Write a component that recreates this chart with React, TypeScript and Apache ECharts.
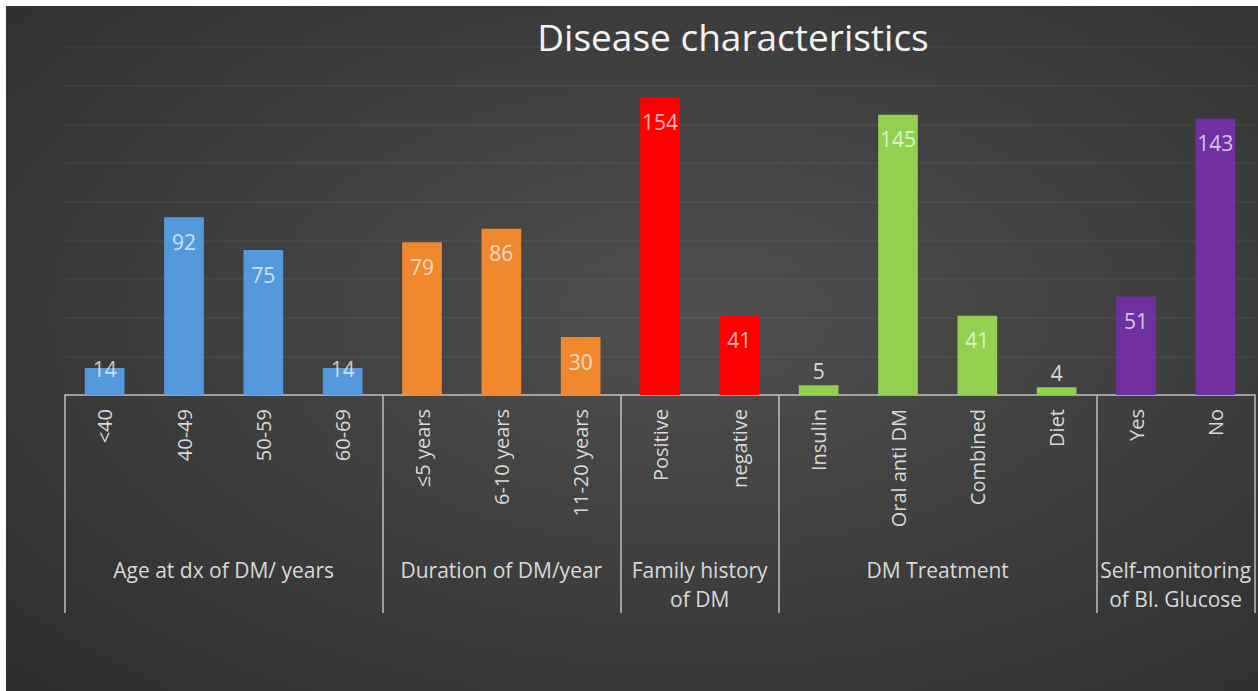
import React, { useEffect, useRef } from "react";
import * as echarts from "echarts";

const categories = [
  "<40", "40-49", "50-59", "60-69",
  "≤5 years", "6-10 years", "11-20 years",
  "Positive", "negative",
  "Insulin", "Oral anti DM", "Combined", "Diet",
  "Yes", "No",
];
const values = [14, 92, 75, 14, 79, 86, 30, 154, 41, 5, 145, 41, 4, 51, 143];
const groupNames = [
  "Age at dx of DM/ years",
  "Duration of DM/year",
  "Family history\nof DM",
  "DM Treatment",
  "Self-monitoring\nof Bl. Glucose",
];
const groupSizes = [4, 3, 2, 4, 2];
const groupColors = ["#5599dd", "#f0882f", "#ff0000", "#92d050", "#7030a0"];
const yTicks = [0, 20, 40, 60, 80, 100, 120, 140, 160, 180];

const FONT = "'Open Sans', sans-serif";

export default function App() {
  const ref = useRef<HTMLDivElement>(null);
  useEffect(() => {
    if (!ref.current) return;
    const chart = echarts.init(ref.current, undefined, { renderer: "svg" });

    const boundaries: number[] = [0];
    const centers: number[] = [];
    const itemColors: string[] = [];
    groupSizes.forEach((s, gi) => {
      const start = boundaries[boundaries.length - 1];
      centers.push(start + s / 2);
      boundaries.push(start + s);
      for (let k = 0; k < s; k++) itemColors.push(groupColors[gi]);
    });

    const data = values.map((v, i) => {
      let label: any;
      if (v < 10) {
        label = { position: "top", distance: 4, color: "#d9d9d9" };
      } else if (v < 20) {
        label = { position: "top", distance: -12 };
      } else {
        label = { position: "insideTop", distance: 14 };
      }
      return { value: v, itemStyle: { color: itemColors[i] }, label };
    });

    chart.setOption({
      animation: false,
      backgroundColor: {
        type: "radial",
        x: 0.55,
        y: 0.45,
        r: 0.95,
        colorStops: [
          { offset: 0, color: "#4f4f4f" },
          { offset: 1, color: "#262626" },
        ],
      },
      title: {
        text: "Disease characteristics",
        left: 722,
        top: 7,
        textAlign: "center",
        textStyle: { color: "#f2f2f2", fontSize: 37, fontWeight: "normal", fontFamily: FONT },
      },
      grid: { left: 59, right: 3, top: 41, bottom: 296, containLabel: false },
      xAxis: [
        {
          type: "category",
          data: categories,
          position: "bottom",
          axisLine: { show: true, lineStyle: { color: "#bfbfbf", width: 1.5 } },
          axisTick: { show: false },
          axisLabel: {
            interval: 0,
            rotate: 90,
            margin: 14,
            color: "#d9d9d9",
            fontSize: 20,
            fontFamily: FONT,
          },
          splitLine: { show: false },
        },
        {
          type: "value",
          min: 0,
          max: categories.length,
          position: "bottom",
          offset: 0,
          axisLine: { show: false },
          splitLine: { show: false },
          axisTick: {
            show: true,
            customValues: boundaries,
            length: 218,
            lineStyle: { color: "#bfbfbf", width: 1.5 },
          },
          axisLabel: {
            show: true,
            customValues: centers,
            margin: 160,
            color: "#d9d9d9",
            fontSize: 21,
            lineHeight: 29,
            fontFamily: FONT,
            formatter: (v: number) => {
              const idx = centers.findIndex((c) => Math.abs(c - v) < 1e-6);
              return idx >= 0 ? groupNames[idx] : "";
            },
          },
        },
      ],
      yAxis: {
        type: "value",
        min: yTicks[0],
        max: yTicks[yTicks.length - 1],
        interval: yTicks[1] - yTicks[0],
        axisLine: { show: false },
        axisTick: { show: false },
        axisLabel: { show: false },
        splitLine: { show: true, lineStyle: { color: "rgba(255,255,255,0.06)", width: 1.5 } },
      },
      series: [
        {
          type: "bar",
          xAxisIndex: 0,
          barWidth: "50%",
          data,
          label: {
            show: true,
            color: "rgba(255,255,255,0.72)",
            fontSize: 21,
            fontFamily: FONT,
          },
        },
      ],
    });
    return () => chart.dispose();
  }, []);

  return (
    <div
      ref={ref}
      style={{ position: "absolute", left: 6, top: 6, width: 1252, height: 685 }}
    />
  );
}
